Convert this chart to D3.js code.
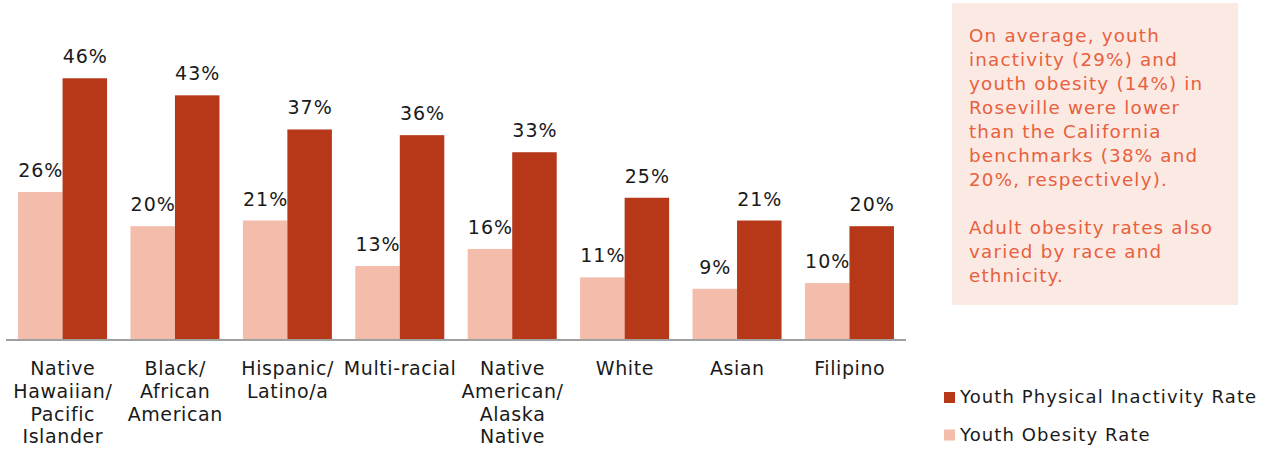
<!DOCTYPE html>
<html><head><meta charset="utf-8">
<script src="https://cdn.jsdelivr.net/npm/d3@7"></script>
<style>body{margin:0;background:#fff;} svg{display:block;font-family:"DejaVu Sans",Verdana,sans-serif;}</style>
</head><body>
<svg id="c" width="1269" height="451"></svg>
<script>
const categories = ["Native\nHawaiian/\nPacific\nIslander","Black/\nAfrican\nAmerican","Hispanic/\nLatino/a","Multi-racial","Native\nAmerican/\nAlaska\nNative","White","Asian","Filipino"];
const seriesNames = ["Youth Obesity Rate","Youth Physical Inactivity Rate"];
const obesity = [26,20,21,13,16,11,9,10];
const inactivity = [46,43,37,36,33,25,21,20];
const noteLines = ["On average, youth","inactivity (29%) and","youth obesity (14%) in","Roseville were lower","than the California","benchmarks (38% and","20%, respectively).","","Adult obesity rates also","varied by race and","ethnicity."];
const colors = ["#F4BCAA","#B63819"];

const svg = d3.select("#c");
const x = d3.scaleBand().domain(categories).range([6,906]).paddingInner(0.208).paddingOuter(0.107);
const xs = d3.scaleBand().domain(seriesNames).range([0,x.bandwidth()]);
const y = d3.scaleLinear().domain([0,50]).range([340,55.5]);
const series = [obesity, inactivity];

const g = svg.append("g");
categories.forEach((c,i)=>{
  series.forEach((s,j)=>{
    g.append("rect").attr("x",x(c)+xs(seriesNames[j])).attr("y",y(s[i]))
      .attr("width",xs.bandwidth()).attr("height",y(0)-y(s[i])).attr("fill",colors[j]);
  });
});
categories.forEach((c,i)=>{
  series.forEach((s,j)=>{
    g.append("text").attr("x",x(c)+xs(seriesNames[j])+xs.bandwidth()/2+0.5).attr("y",y(s[i])-15)
      .attr("text-anchor","middle").attr("font-size",19).attr("letter-spacing",1).attr("fill","#1a1a1a").text(s[i]+"%");
  });
});
// axis
const ax = svg.append("g").attr("transform","translate(0,340)").call(d3.axisBottom(x).tickSize(0).tickFormat(""));
ax.select(".domain").attr("stroke","#A0A0A0").attr("stroke-width",2).attr("d","M6,0H906");
categories.forEach(c=>{
  const t = svg.append("text").attr("text-anchor","middle").attr("font-size",19).attr("letter-spacing",0.6).attr("fill","#1a1a1a");
  c.split("\n").forEach((ln,k)=>{
    t.append("tspan").attr("x",x(c)+x.bandwidth()/2+0.3).attr("y",375+k*22.8).text(ln);
  });
});
// note box
svg.append("rect").attr("x",952).attr("y",3).attr("width",286).attr("height",302).attr("fill","#FBE9E4");
const nt = svg.append("text").attr("font-size",18.3).attr("letter-spacing",1.2).attr("fill","#E8603C");
noteLines.forEach((ln,k)=>{ if(ln) nt.append("tspan").attr("x",969).attr("y",41.7+k*24).text(ln); });
// legend
const legendOrder = [1,0];
legendOrder.forEach((j,k)=>{
  svg.append("rect").attr("x",944).attr("y",392+k*37.5).attr("width",11).attr("height",11).attr("fill",colors[j]);
  svg.append("text").attr("x",960).attr("y",403+k*37.5).attr("font-size",18).attr("letter-spacing",1.1).attr("fill","#1a1a1a").text(seriesNames[j]);
});
</script>
</body></html>
